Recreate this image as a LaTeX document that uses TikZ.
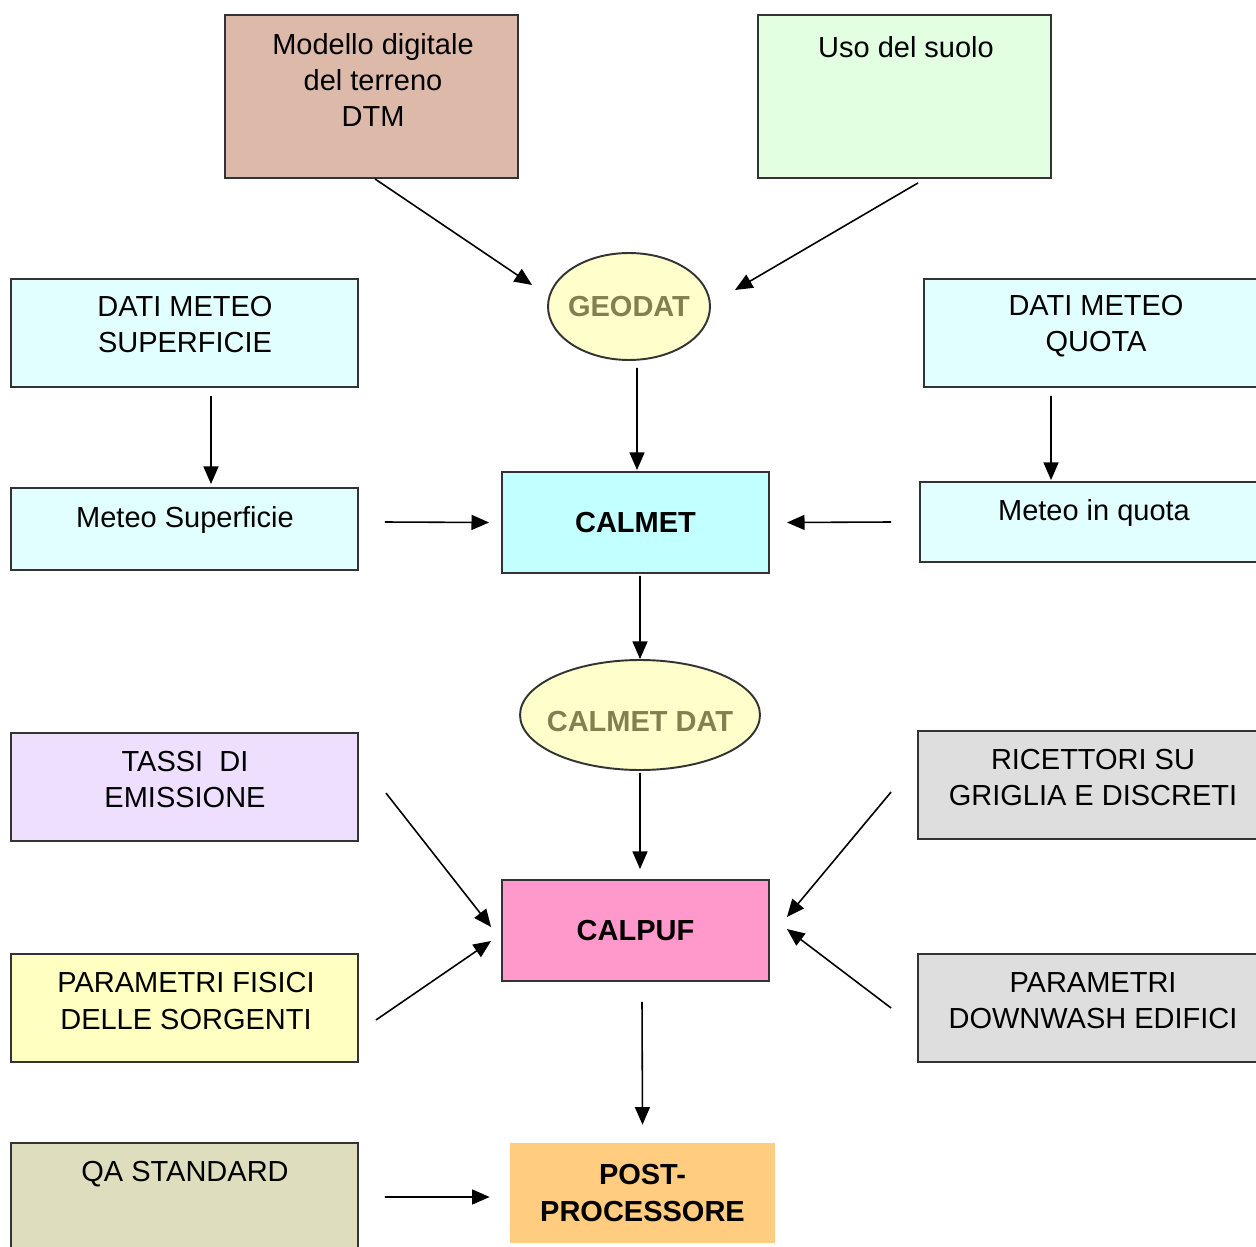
\documentclass[tikz,border=0pt]{standalone}
\usepackage{fontspec}
\setmainfont{Liberation Sans}
\usetikzlibrary{shapes.geometric,arrows.meta}

\definecolor{dtmcol}{RGB}{220,185,168}
\definecolor{usocol}{RGB}{226,255,226}
\definecolor{metcol}{RGB}{226,255,255}
\definecolor{calmetcol}{RGB}{194,255,255}
\definecolor{datcol}{RGB}{255,255,204}
\definecolor{dattext}{RGB}{128,128,80}
\definecolor{tassicol}{RGB}{238,222,255}
\definecolor{grigiocol}{RGB}{222,222,222}
\definecolor{calpufcol}{RGB}{255,153,204}
\definecolor{sorgcol}{RGB}{255,255,194}
\definecolor{qacol}{RGB}{222,222,190}
\definecolor{postcol}{RGB}{255,204,128}

\tikzset{
  box/.style={draw=black!80,line width=1.1pt,rectangle,inner sep=0pt},
  bigbox/.style={box,minimum width=6.94cm,minimum height=2.16cm},
  prog/.style={box,minimum width=5.34cm,minimum height=2.02cm,
    font=\fontsize{16.5}{20.5}\selectfont\bfseries},
  dat/.style={draw=black!80,line width=1.1pt,ellipse,inner sep=0pt,fill=datcol,
    text=dattext,font=\fontsize{16.5}{20.5}\selectfont\bfseries},
  txt/.style={align=center,inner sep=0pt,font=\fontsize{16.5}{20.5}\selectfont},
  freccia/.style={line width=0.9pt,-{Triangle[length=10pt,width=8.5pt]}}
}

\begin{document}
\begin{tikzpicture}[x=0.02cm,y=-0.02cm]

    \useasboundingbox (0,0) rectangle (1256,1246);

    % ingressi
    \node[box,fill=dtmcol,minimum width=5.86cm,minimum height=3.26cm] (dtm) at (371.5,96.5) {};
    \node[txt] (dtm-t) at (373,80) {Modello digitale\\del terreno\\DTM};
    \node[box,fill=usocol,minimum width=5.86cm,minimum height=3.26cm] (uso) at (904.5,96.5) {};
    \node[txt] (uso-t) at (906,47) {Uso del suolo};

    \node[dat,minimum width=3.24cm,minimum height=2.14cm] (geodat) at (629,306.5) {\makebox[0pt]{GEODAT}};

    \node[bigbox,fill=metcol] (dsup) at (184.5,333) {};
    \node[txt] (dsup-t) at (185,325) {DATI METEO\\SUPERFICIE};
    \node[bigbox,fill=metcol] (dquota) at (1097.5,333) {};
    \node[txt] (dquota-t) at (1096,326) {DATI METEO\\QUOTA};

    \node[box,fill=metcol,minimum width=6.94cm,minimum height=1.64cm] (msup) at (184.5,529) {};
    \node[txt] (msup-t) at (185,520) {Meteo Superficie};
    \node[box,fill=metcol,minimum width=6.94cm,minimum height=1.6cm] (mquota) at (1093.5,522) {};
    \node[txt] (mquota-t) at (1094,513) {Meteo in quota};

    \node[prog,fill=calmetcol] (calmet) at (635.5,522.5) {CALMET};

    \node[dat,minimum width=4.8cm,minimum height=2.2cm] (cdat) at (640,715)
      {\raisebox{-0.33cm}[0pt][0pt]{\makebox[0pt]{CALMET DAT}}};

    \node[bigbox,fill=tassicol] (tassi) at (184.5,787) {};
    \node[txt] (tassi-t) at (185,780) {TASSI\ \ DI\\EMISSIONE};
    \node[bigbox,fill=grigiocol] (ricett) at (1091.5,785) {};
    \node[txt] (ricett-t) at (1093,778) {RICETTORI SU\\GRIGLIA E DISCRETI};

    \node[prog,fill=calpufcol] (calpuf) at (635.5,930.5) {CALPUF};

    \node[bigbox,fill=sorgcol] (pfis) at (184.5,1008) {};
    \node[txt] (pfis-t) at (186,1001) {PARAMETRI FISICI\\DELLE SORGENTI};
    \node[bigbox,fill=grigiocol] (downw) at (1091.5,1008) {};
    \node[txt] (downw-t) at (1093,1001) {PARAMETRI\\DOWNWASH EDIFICI};

    \node[bigbox,fill=qacol] (qa) at (184.5,1197) {};
    \node[txt] (qa-t) at (185,1174) {QA STANDARD};

    \node[rectangle,fill=postcol,minimum width=5.3cm,minimum height=2cm,align=center,
      font=\fontsize{16.5}{20.5}\selectfont\bfseries] (post) at (642.5,1193) {POST-\\PROCESSORE};

    % frecce
    \draw[freccia] ([xshift=0.07cm]dtm.south) -- ([xshift=-0.3cm,yshift=0.43cm]geodat.west);
    \draw[freccia] ([xshift=0.27cm,yshift=-0.08cm]uso.south) -- ([xshift=0.48cm,yshift=0.33cm]geodat.east);
    \draw[freccia] ([xshift=0.16cm,yshift=-0.14cm]geodat.south) -- ([xshift=0.03cm,yshift=0.02cm]calmet.north);
    \draw[freccia] ([xshift=0.53cm,yshift=-0.16cm]dsup.south) -- ([xshift=0.53cm,yshift=0.06cm]msup.north);
    \draw[freccia] ([xshift=-0.93cm,yshift=-0.16cm]dquota.south) -- ([xshift=-0.85cm,yshift=0.02cm]mquota.north);
    \draw[freccia] ([xshift=0.52cm,yshift=0.14cm]msup.east) -- ([xshift=-0.24cm]calmet.west);
    \draw[freccia] ([xshift=-0.56cm]mquota.west) -- ([xshift=0.34cm]calmet.east);
    \draw[freccia] ([xshift=0.09cm,yshift=-0.04cm]calmet.south) -- (cdat.north);
    \draw[freccia] ([yshift=-0.04cm]cdat.south) -- ([xshift=0.09cm,yshift=0.2cm]calpuf.north);
    \draw[freccia] ([xshift=0.54cm,yshift=-0.12cm]tassi.east) -- ([xshift=-0.2cm,yshift=0.07cm]calpuf.west);
    \draw[freccia] ([xshift=0.34cm,yshift=-0.24cm]pfis.east) -- ([xshift=-0.2cm,yshift=-0.21cm]calpuf.west);
    \draw[freccia] ([xshift=-0.52cm,yshift=-0.14cm]ricett.west) -- ([xshift=0.34cm,yshift=0.27cm]calpuf.east);
    \draw[freccia] ([xshift=-0.52cm]downw.west) -- ([xshift=0.34cm,yshift=0.03cm]calpuf.east);
    \draw[freccia] ([xshift=0.13cm,yshift=-0.4cm]calpuf.south) -- ([yshift=0.36cm]post.north);
    \draw[freccia] ([xshift=0.52cm]qa.east) -- ([xshift=-0.4cm,yshift=-0.08cm]post.west);

\end{tikzpicture}
\end{document}
